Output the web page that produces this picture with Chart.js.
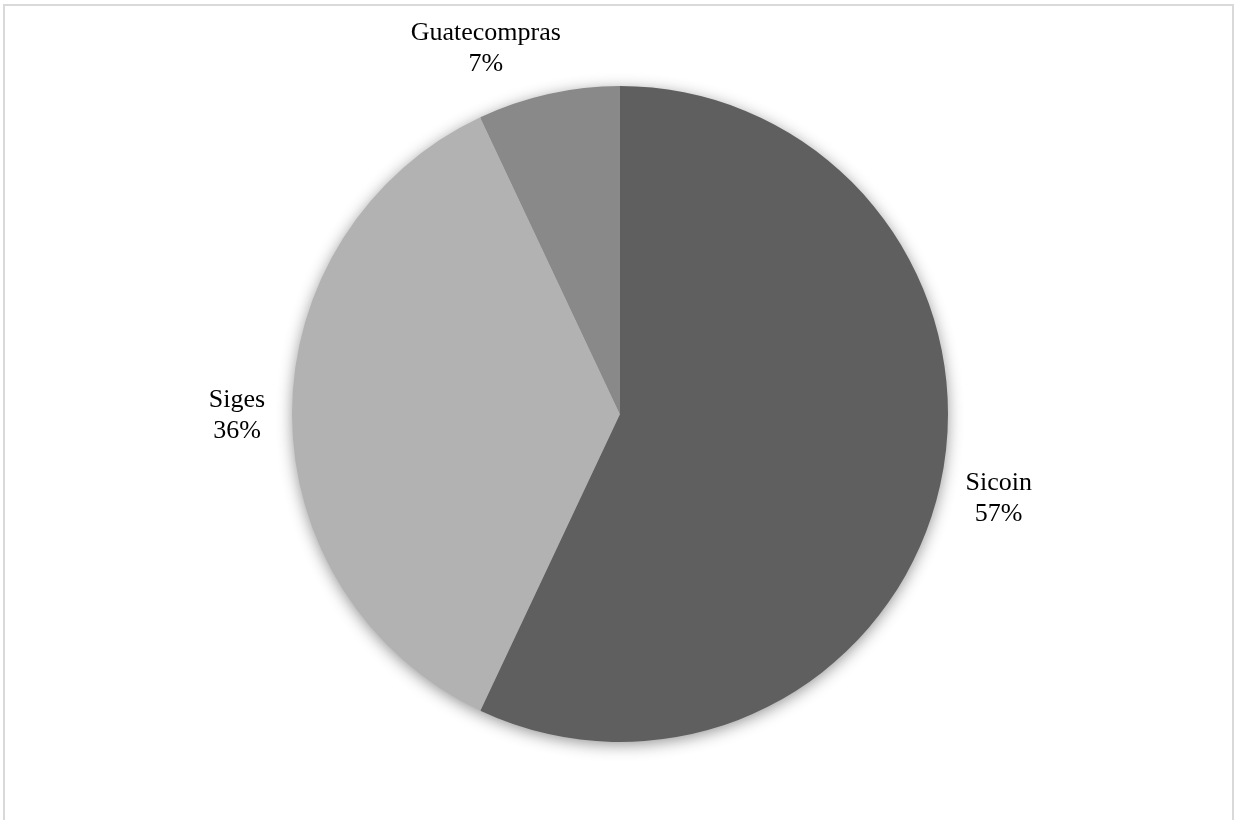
<!DOCTYPE html>
<html>
<head>
<meta charset="utf-8">
<script src="https://cdn.jsdelivr.net/npm/chart.js@4.4.1/dist/chart.umd.min.js"></script>
<style>
  html, body { margin: 0; padding: 0; background: #fff; }
  #wrap { width: 1234px; height: 820px; }
</style>
</head>
<body>
<div id="wrap"><canvas id="pie" width="1234" height="820"></canvas></div>
<script>
// datos del grafico
const sistemas = ['Sicoin', 'Siges', 'Guatecompras'];
const porcentajes = [57, 36, 7];
const colores = ['#5f5f5f', '#b2b2b2', '#898989'];

// sombra suave detras del pastel + marco gris
const sombraPlugin = {
  id: 'sombra',
  beforeDraw(chart) {
    const ctx = chart.ctx;
    ctx.save();
    ctx.strokeStyle = '#d9d9d9';
    ctx.lineWidth = 2;
    ctx.beginPath();
    ctx.moveTo(4, 830);
    ctx.lineTo(4, 5);
    ctx.lineTo(1233, 5);
    ctx.lineTo(1233, 830);
    ctx.stroke();
    ctx.restore();
  },
  beforeDatasetsDraw(chart) {
    const arc = chart.getDatasetMeta(0).data[0];
    if (!arc) return;
    const ctx = chart.ctx;
    ctx.save();
    ctx.shadowColor = 'rgba(0,0,0,0.45)';
    ctx.shadowBlur = 16;
    ctx.shadowOffsetY = 3;
    ctx.fillStyle = '#888';
    ctx.beginPath();
    ctx.arc(arc.x, arc.y, arc.outerRadius - 1, 0, Math.PI * 2);
    ctx.fill();
    ctx.restore();
  }
};

// etiquetas fuera del pastel (nombre + porcentaje)
const etiquetasPlugin = {
  id: 'etiquetas',
  afterDatasetsDraw(chart, args, opts) {
    const ctx = chart.ctx;
    const meta = chart.getDatasetMeta(0);
    const total = porcentajes.reduce((a, b) => a + b, 0);
    ctx.save();
    ctx.font = '26px "Liberation Serif", "Times New Roman", serif';
    ctx.fillStyle = '#000';
    ctx.textAlign = 'center';
    ctx.textBaseline = 'middle';
    meta.data.forEach((arc, i) => {
      const ang = (arc.startAngle + arc.endAngle) / 2;
      const r = arc.outerRadius + opts.distancia;
      const ajuste = opts.ajustes[i] || [0, 0];
      const x = arc.x + Math.cos(ang) * r + ajuste[0];
      const y = arc.y + Math.sin(ang) * r + ajuste[1];
      const pct = Math.round(porcentajes[i] / total * 100) + '%';
      ctx.fillText(sistemas[i], x, y - 15.5);
      ctx.fillText(pct, x, y + 15.5);
    });
    ctx.restore();
  }
};

const ctx = document.getElementById('pie').getContext('2d');
const grafico = new Chart(ctx, {
  type: 'pie',
  data: {
    labels: sistemas,
    datasets: [{
      data: porcentajes,
      backgroundColor: colores,
      borderWidth: 0,
      hoverOffset: 0
    }]
  },
  options: {
    responsive: false,
    animation: false,
    layout: {
      padding: { top: 86, bottom: 78, left: 292, right: 286 }
    },
    plugins: {
      legend: { display: false },
      tooltip: { enabled: false },
      etiquetas: {
        distancia: 58,
        ajustes: [[2, 0], [3, 2], [-50, 11]]
      }
    }
  },
  plugins: [sombraPlugin, etiquetasPlugin]
});
</script>
</body>
</html>
